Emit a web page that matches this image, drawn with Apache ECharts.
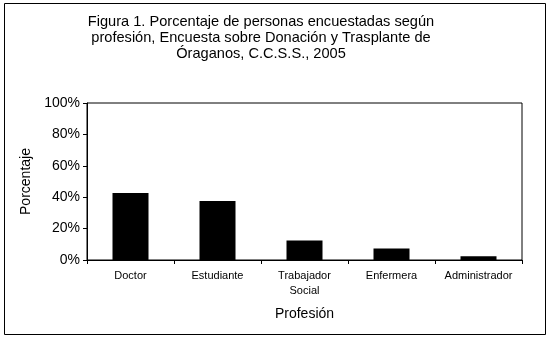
<!DOCTYPE html>
<html>
<head>
<meta charset="utf-8">
<script src="https://cdn.jsdelivr.net/npm/echarts@6/dist/echarts.min.js"></script>
<style>
  html, body { margin: 0; padding: 0; background: #fff; }
  #chart { width: 551px; height: 341px; }
</style>
</head>
<body>
<div id="chart"></div>
<script>
// datos de la figura
var titleLines = [
    'Figura 1. Porcentaje de personas encuestadas según',
    'profesión, Encuesta sobre Donación y Trasplante de',
    'Óraganos, C.C.S.S., 2005'
];
var categories = ['Doctor', 'Estudiante', 'Trabajador\nSocial', 'Enfermera', 'Administrador'];
var percentages = [42.7, 37.6, 12.5, 7.3, 2.4];
var yAxisName = 'Porcentaje';
var xAxisName = 'Profesión';

function renderChart() {
    var dom = document.getElementById('chart');
    var myChart = echarts.init(dom, null, { renderer: 'canvas' });
    var font = 'Liberation Sans, Arial, sans-serif';

    var option = {
        animation: false,
        backgroundColor: '#fff',
        textStyle: { fontFamily: font, color: '#000' },
        graphic: [
            {
                // marco exterior
                type: 'rect',
                shape: { x: 4.5, y: 3.5, width: 541, height: 331 },
                style: { fill: 'none', stroke: '#000', lineWidth: 1 }
            },
            {
                type: 'text',
                x: 261,
                y: 14,
                style: {
                    text: titleLines.join('\n'),
                    font: '14.6px ' + font,
                    fill: '#000',
                    align: 'center',
                    lineHeight: 16
                }
            }
        ],
        grid: {
            left: 87,
            right: 29,
            top: 103,
            bottom: 81,
            show: true,
            borderColor: '#000',
            borderWidth: 1
        },
        xAxis: {
            type: 'category',
            data: categories,
            name: xAxisName,
            nameLocation: 'middle',
            nameGap: 47,
            nameTextStyle: { fontSize: 14, color: '#000', fontFamily: font },
            axisLine: { lineStyle: { color: '#000', width: 1 } },
            axisTick: { show: true, length: 4, lineStyle: { color: '#000' } },
            axisLabel: { interval: 0, fontSize: 11, color: '#000', margin: 8, lineHeight: 15, fontFamily: font }
        },
        yAxis: {
            type: 'value',
            min: 0,
            max: 100,
            interval: 20,
            name: yAxisName,
            nameLocation: 'middle',
            nameGap: 51,
            nameTextStyle: { fontSize: 14, color: '#000', fontFamily: font },
            axisLine: { show: true, lineStyle: { color: '#000', width: 1 } },
            axisTick: { show: true, length: 4, lineStyle: { color: '#000' } },
            splitLine: { show: false },
            axisLabel: { fontSize: 14, color: '#000', margin: 7, formatter: '{value}%', fontFamily: font }
        },
        series: [{
            type: 'bar',
            data: percentages,
            barWidth: 36,
            itemStyle: { color: '#000' }
        }]
    };

    myChart.setOption(option);
}
renderChart();
</script>
</body>
</html>
